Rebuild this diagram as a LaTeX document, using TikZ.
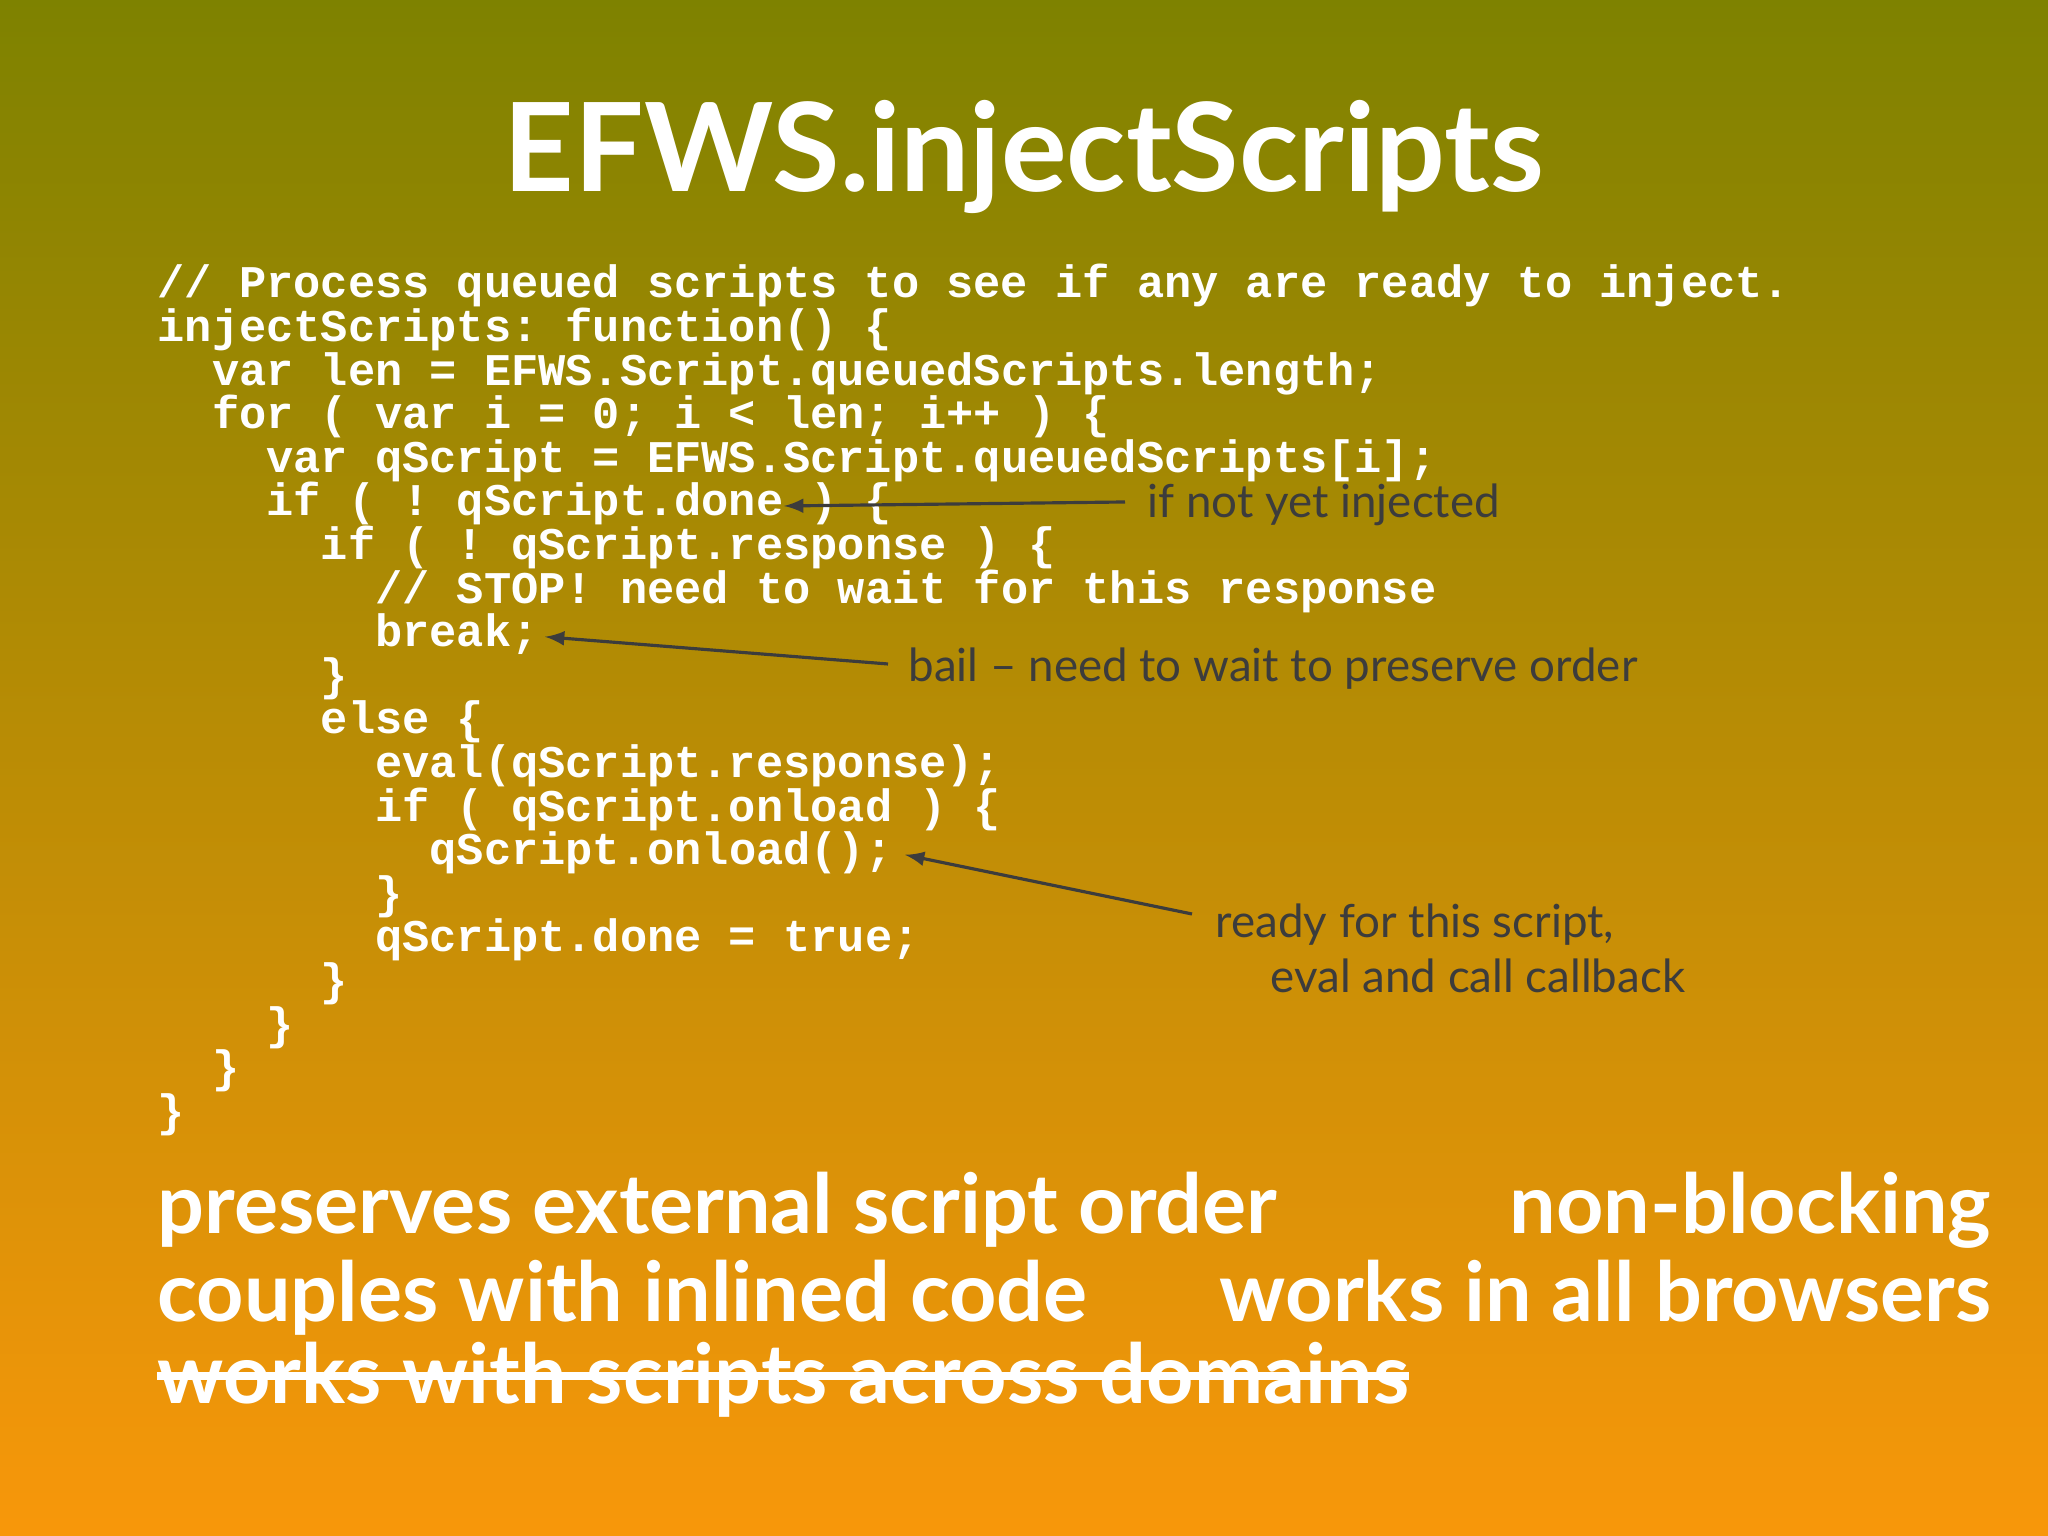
\documentclass[tikz,border=0pt]{standalone}
\usepackage{fontspec}
\setmainfont{Lato}
\setmonofont{Liberation Mono}
\usetikzlibrary{calc}
\definecolor{topc}{HTML}{7E8200}
\definecolor{botc}{HTML}{F8970A}
\definecolor{lbl}{HTML}{3C3C3C}
\tikzset{
 codeline/.style={anchor=base west,inner sep=0pt,text=white,font=\ttfamily\bfseries\fontsize{12.9}{12.4}\selectfont},
 lab/.style={anchor=base west,inner sep=0pt,text=lbl,font=\fontsize{13}{15}\selectfont},
 big/.style={inner sep=0pt,text=white,font=\bfseries\fontsize{23.5}{26}\selectfont},
 arr/.style={draw=lbl,line width=0.9pt,-latex}
}
\begin{document}
\begin{tikzpicture}
\shade[top color=topc,bottom color=botc] (0,0) rectangle (20.48,15.36);
\useasboundingbox (0,0) rectangle (20.48,15.36);
\node[text=white,font=\bfseries\fontsize{35}{40}\selectfont,anchor=base] (title) at (10.24,13.44) {EFWS.injectScripts};
\foreach \i/\t in {0/{// Process queued scripts to see if any are ready to inject.},
1/{injectScripts: function() \{},
2/{\ \ var len = EFWS.Script.queuedScripts.length;},
3/{\ \ for ( var i = 0; i < len; i++ ) \{},
4/{\ \ \ \ var qScript = EFWS.Script.queuedScripts[i];},
5/{\ \ \ \ if ( ! qScript.done ) \{},
6/{\ \ \ \ \ \ if ( ! qScript.response ) \{},
7/{\ \ \ \ \ \ \ \ // STOP! need to wait for this response},
8/{\ \ \ \ \ \ \ \ break;},
9/{\ \ \ \ \ \ \}},
10/{\ \ \ \ \ \ else \{},
11/{\ \ \ \ \ \ \ \ eval(qScript.response);},
12/{\ \ \ \ \ \ \ \ if ( qScript.onload ) \{},
13/{\ \ \ \ \ \ \ \ \ \ qScript.onload();},
14/{\ \ \ \ \ \ \ \ \}},
15/{\ \ \ \ \ \ \ \ qScript.done = true;},
16/{\ \ \ \ \ \ \}},
17/{\ \ \ \ \}},
18/{\ \ \}},
19/{\}}}
{\node[codeline] (l\i) at (1.57,{15.36-2.98-0.436*\i}) {\t};}
\node[lab] (n1) at (11.47,10.18) {if not yet injected};
\node[lab] (n2) at (9.08,8.54) {bail – need to wait to preserve order};
\node[lab] (n3) at (12.15,5.98) {ready for this script,};
\node[lab] (n4) at (12.70,5.43) {eval and call callback};
\coordinate (t1) at ($(l5.base west)+(6.27,0.1)$);
\coordinate (t2) at ($(l8.base west)+(3.88,0.1)$);
\coordinate (t3) at ($(l13.base west)+(7.48,0.1)$);
\draw[arr] (11.25,10.34) -- (t1);
\draw[arr] (8.88,8.72) -- (t2);
\draw[arr] (11.92,6.22) -- (t3);
\node[big,anchor=base west] (b1) at (1.57,3.02) {preserves external script order};
\node[big,anchor=base east] (b2) at (19.92,3.02) {non-blocking};
\node[big,anchor=base west] (b3) at (1.57,2.14) {couples with inlined code};
\node[big,anchor=base east] (b4) at (19.92,2.14) {works in all browsers};
\node[big,anchor=base west] (b5) at (1.57,1.32) {works with scripts across domains};
\draw[white,line width=2.2pt] ([yshift=0.28cm]b5.base west) -- ([yshift=0.28cm]b5.base east);
\end{tikzpicture}
\end{document}
